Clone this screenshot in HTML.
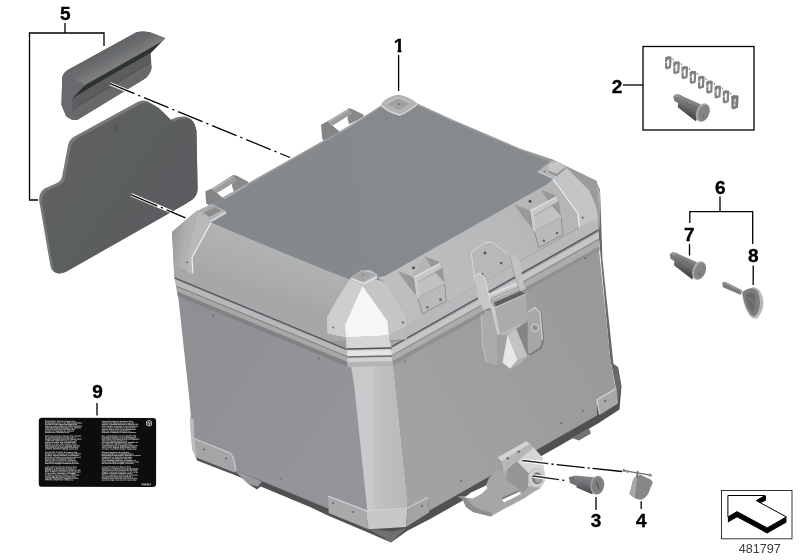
<!DOCTYPE html>
<html lang="en">
<head>
<meta charset="utf-8">
<title>Top case parts diagram 481797</title>
<style>
html,body{margin:0;padding:0;background:#fff;}
body{width:800px;height:560px;overflow:hidden;position:relative;font-family:"Liberation Sans",sans-serif;}
svg{position:absolute;left:0;top:0;display:block;}
.lbl{font-family:"Liberation Sans",sans-serif;font-weight:bold;font-size:19px;fill:#000;stroke:#000;stroke-width:0.35px;text-anchor:middle;}
.num{font-family:"Liberation Sans",sans-serif;font-size:12.6px;fill:#3a3a3a;text-anchor:middle;}
.ln{stroke:#000;stroke-width:1.3;fill:none;}
.tiny{font-family:"Liberation Sans",sans-serif;font-size:1.75px;font-weight:bold;fill:#f4f4f4;}
</style>
</head>
<body>
<svg width="800" height="560" viewBox="0 0 800 560">
<defs>
<filter id="soft" x="-5%" y="-5%" width="110%" height="110%"><feGaussianBlur stdDeviation="0.45"/></filter>
<filter id="soft2" x="-5%" y="-5%" width="110%" height="110%"><feGaussianBlur stdDeviation="0.3"/></filter>
</defs>
<rect width="800" height="560" fill="#fff"/>

<!-- ===== ILLUSTRATION ===== -->
<g id="art" filter="url(#soft)">
<!-- underside -->
<path d="M193 449L197 460.500L236 475.500L262 487L310 507L329 516L368 532.500L391 542.500L407 531L431 518.500L560 445.500L598 423.500L619.500 409.500L621.500 386L618 367L613 364L616 388L560 424L430 500L366 512L232 458Z" fill="#4f5153"/>
<path d="M369 529L391 542L406 528.500L392 531.500Z" fill="#6e7072"/>
<path d="M233 469L262 481.500L258 486.500L247 483Z" fill="#98999b"/>
<path d="M247 483L258 486.500L262 481.500L262 485.500L257 489.500Z" fill="#505254"/>
<path d="M572 438L589 428.500L591 433.500L579 440.500Z" fill="#707274"/>

<!-- ================= MAIN CASE ================= -->
<defs>
<linearGradient id="gTop" x1="213" y1="210" x2="548" y2="175" gradientUnits="userSpaceOnUse"><stop offset="0" stop-color="#85888a"/><stop offset="1" stop-color="#888b8d"/></linearGradient>
<linearGradient id="gFL" x1="175" y1="300" x2="360" y2="420" gradientUnits="userSpaceOnUse"><stop offset="0" stop-color="#8d8f92"/><stop offset="1" stop-color="#939598"/></linearGradient>
<linearGradient id="gFR" x1="400" y1="420" x2="610" y2="300" gradientUnits="userSpaceOnUse"><stop offset="0" stop-color="#a0a2a4"/><stop offset="1" stop-color="#97999b"/></linearGradient>
<linearGradient id="gPost" x1="350" y1="0" x2="402" y2="0" gradientUnits="userSpaceOnUse"><stop offset="0" stop-color="#c6c8ca"/><stop offset="0.4" stop-color="#c9cbcd"/><stop offset="0.52" stop-color="#bfc1c3"/><stop offset="1" stop-color="#b8babc"/></linearGradient>
<linearGradient id="gBandL" x1="270" y1="240" x2="252" y2="295" gradientUnits="userSpaceOnUse"><stop offset="0" stop-color="#b1b3b5"/><stop offset="0.7" stop-color="#a9abad"/><stop offset="1" stop-color="#a3a5a7"/></linearGradient><linearGradient id="gSideL" x1="172" y1="240" x2="198" y2="245" gradientUnits="userSpaceOnUse"><stop offset="0" stop-color="#999b9d"/><stop offset="0.5" stop-color="#aeb0b2"/><stop offset="1" stop-color="#b6b8ba"/></linearGradient>
<linearGradient id="gBandR" x1="400" y1="290" x2="570" y2="200" gradientUnits="userSpaceOnUse"><stop offset="0" stop-color="#bcbec0"/><stop offset="1" stop-color="#b3b5b7"/></linearGradient>
</defs>

<!-- right dark sliver (back-right face) -->
<path d="M596 181L600 190L602.500 260L613.500 364L618 367.500L621 386L618 404L616 388L610 358L598 228Z" fill="#66686a"/>
<!-- back-right chamfer -->
<linearGradient id="gBR" x1="572" y1="168" x2="600" y2="215" gradientUnits="userSpaceOnUse"><stop offset="0" stop-color="#d2d4d6"/><stop offset="0.5" stop-color="#b4b6b8"/><stop offset="1" stop-color="#9c9ea0"/></linearGradient>
<path d="M566 166L596 181L600 192L600 230L597 214L589 190Z" fill="url(#gBR)"/>

<!-- body: front-left face -->
<path d="M178 295L351.500 366L355 384L364 470L368.500 511L328 508.500L236 470.500L196 457L192.500 449L191 418L189.500 400Z" fill="url(#gFL)"/>
<!-- body: front-right face -->
<path d="M392.500 364L599 249.500L610.500 360L615.500 388L597 400L597 415.500L429.400 510.600L427.800 497.600L407.500 508Z" fill="url(#gFR)"/>
<!-- corner post -->
<path d="M347.500 364L392.500 362L407.800 508.500L367.500 511.500L363 470L354 384L351 366Z" fill="url(#gPost)"/>

<!-- rim zone filler -->
<path d="M174.500 275L346 337L407.500 339L598.500 231L599.500 250.500L393 365.500L347.800 367L177 292.500Z" fill="#a8aaac"/>
<!-- FL rim (below seam) -->
<path d="M174.500 276L346.500 348L348 367L178 296.500Z" fill="#a5a7a9"/>
<path d="M175 279.500L346.500 350.500L347 356L176 285.500Z" fill="#b6b8ba"/>
<path d="M176 286L347 356.500" stroke="#7e8082" stroke-width="1" fill="none"/>
<path d="M177 291.500L347.500 362L348 367L178 296.500Z" fill="#808284"/>
<!-- FR rim (below seam) -->
<path d="M391.500 346L598.500 231L599.500 250L393 365Z" fill="#aaacae"/>
<path d="M391.500 348.300L598.500 231.300L599 238L392 355Z" fill="#c4c6c8"/>
<path d="M392 355.500L599 239.500" stroke="#858789" stroke-width="1" fill="none"/>
<path d="M392.500 361L599.200 246.500L599.500 250.500L393 365.500Z" fill="#8e9092"/>

<!-- lid back silhouette strip -->
<path d="M172 232L193 214L212 203.500L280 165L350 125.500L381 105.500L398.500 94.500L417.500 103.500L450 118.500L520 148.500L553 159.500L566 166L597 181L599 232L407 340L346.500 348.500L174.500 276.500Z" fill="#999b9d"/>
<!-- top face -->
<path d="M213 205.500L280.500 166.800L350.500 127.300L381.500 107.300L398.500 96.500L416.500 105L450 120.300L520 150.300L548.500 161L556 170L553 179.400L546 185L385 276L372 284L350 279.500L330 272L250 239.300L211 222.500L205 211Z" fill="url(#gTop)"/>

<!-- left side chamfer -->
<path d="M197.400 210L193 214L172 231.700L173.700 265.500L187.500 272L188 252.700Z" fill="url(#gSideL)"/>
<!-- FL lid vertical side -->
<path d="M173.500 265L193 273.700L327.200 317.500L327.700 341.500L174.500 278Z" fill="#a5a7a9"/>
<!-- FL chamfer band -->
<path d="M211 222.500L250 239.300L330 272L350 279.500L337.500 298.700L327.200 317.500L193 273.700L192 257.500Z" fill="url(#gBandL)"/>
<!-- FL seam -->
<path d="M174.500 277.800L346.500 349.300" stroke="#55575a" stroke-width="1.400" fill="none"/>

<!-- FR lid vertical side -->
<path d="M407.500 325L598 217.500L598.500 230L407 339.500Z" fill="#b7b9bb"/>
<!-- FR chamfer band -->
<path d="M385 276L546 185L553 179.400L578 213.700L579.400 227L407.500 325L406 316L386 282.500L377.500 277.500Z" fill="url(#gBandR)"/>
<!-- FR seam -->
<path d="M391.500 346.800L598.500 229.800" stroke="#55575a" stroke-width="1.400" fill="none"/>

<!-- left corner strap -->
<path d="M197.400 212L211 222.500L192 257.500L193 273.800L187.300 272L188 252.700Z" fill="#b7b9bb"/>
<path d="M211 222.500L192 257.500L193 273.500" stroke="#f4f4f4" stroke-width="1.100" fill="none"/>
<!-- right corner strap -->
<path d="M553 179.400L566 167.500L589 190L596 206L598.300 218L579.400 227.500L578 213.700L561 190Z" fill="#c3c5c7"/>
<path d="M553 179.400L561 190L578 213.700L579.400 227.500" stroke="#f0f0f0" stroke-width="1.200" fill="none"/>

<!-- front corner strap -->
<path d="M350 279L376 279.500L386 282.500L406 316L407.500 326L388.700 335.500L346 337.500L327.500 333.700L327 317.500L337.500 298.700Z" fill="#c3c5c7"/>
<path d="M350 279L362.500 286L345 325L346 337.500L327.500 333.700L327 317.500L337.500 298.700Z" fill="#cccecf"/>
<path d="M362.500 286L387.500 321L388.700 335.500L346 337.500L345 325Z" fill="#f6f6f6"/>
<path d="M327.500 333.700L346 337.500L346.500 340.500L327.700 340.700Z" fill="#a5a7a9"/>
<path d="M388.700 335.500L407.500 326L407 339.500L390.500 340Z" fill="#b7b9bb"/>
<!-- front corner stripes under strap -->
<path d="M346 337.500L388.700 335.500L392.500 364.500L347.800 366.500Z" fill="#c9cbcd"/>
<path d="M346 337.500L388.700 335.500L391.200 347.500L347 348.500Z" fill="#d3d5d7"/>
<path d="M347 349L391.300 348" stroke="#4f5153" stroke-width="1.600" fill="none"/>
<path d="M347.200 351L391.500 350L391.800 355L347.500 356Z" fill="#e4e5e6"/>
<path d="M347.500 357L391.900 356" stroke="#6e7072" stroke-width="1.300" fill="none"/>
<path d="M347.600 358.500L392 357.500L392.200 361L347.700 362Z" fill="#cfd1d3"/>
<path d="M347.700 362L392.200 361L392.500 365L347.800 366.500Z" fill="#b3b5b7"/>

<!-- bottom corner guards -->
<!-- left guard -->
<path d="M191 418L193 438L230 453L233.500 457.500L236 471L234.500 472.500L196 457.500L192.500 449.500Z" fill="#a3a5a7"/>
<path d="M189.800 416.500L193.600 419.500L194.300 438.300L196.600 457.700L192.200 449.800L190.300 430Z" fill="#b9bbbd"/>
<path d="M193 438L230 453L233.500 457.500L236 471" stroke="#c8cacc" stroke-width="1.200" fill="none"/>
<!-- front corner guard -->
<path d="M328 496L366 510.600L368.500 529.300L328.700 513Z" fill="#a7a9ab"/>
<path d="M366 510.600L407.500 508L406 527L368.500 529.300Z" fill="#c6c8ca"/>
<path d="M407.500 508L427.800 497.600L429.400 512.300L406 527Z" fill="#a2a4a6"/>
<path d="M328 496L366 510.600L407.500 508L427.800 497.600" stroke="#cfd1d3" stroke-width="1.100" fill="none"/>
<!-- right guard -->
<path d="M597 399.700L616.500 388.500L618 403.500L600 414.700Z" fill="#a7a9ab"/>
<path d="M599.500 414.500L597 399.700L616.500 388.500" stroke="#d0d2d4" stroke-width="1.300" fill="none"/>
<!-- screws -->
<g fill="#6c6e70">
<circle cx="204" cy="449.500" r="1.100"/><circle cx="226" cy="458.500" r="1.100"/>
<circle cx="333" cy="503" r="1.100"/><circle cx="353" cy="512" r="1.100"/><circle cx="422" cy="506" r="1.200"/>
<circle cx="605" cy="401" r="1.200"/>
<circle cx="281" cy="478.500" r="1"/><circle cx="461" cy="481" r="1"/><circle cx="561" cy="423" r="1.100"/><circle cx="583" cy="411" r="1"/>
<circle cx="213.300" cy="315.500" r="1.100"/><circle cx="319" cy="358.500" r="1"/><circle cx="405" cy="361.500" r="1.100"/><circle cx="585" cy="258" r="1.100"/>
</g>

<!-- mounting bracket / lock housing -->
<g>
<!-- lower arm -->
<path d="M458 496L463 500L466 507L473 512L491 516.500L503 509.500L524 498.500L538 489L545 480L520 470L497 470L489 478L486 485L480 491L470 496Z" fill="#a4a6a8"/>
<path d="M458 496L463 500L466 507L473 512L491 516.500L492 513L476 508L469 502L466 496Z" fill="#8c8e90"/>
<path d="M464.500 497.500L471 492.500L486 485.500L487.500 488L482 493.500L473 498.500Z" fill="#fff"/>
<path d="M502 499.500L519.500 491.500L521 494L504 502.500Z" fill="#fff"/>
<path d="M502 499.500L519.500 491.500L519.500 490L502.500 497.500Z" fill="#77797b"/>
<!-- wall plate -->
<path d="M501.200 461.200L530 443.700L534 448L517.500 461.200L507.500 470L503.700 473.700Z" fill="#b4b6b8"/>
<path d="M497.500 457.500L526.200 441.200L530 443.700L501.200 461.200Z" fill="#d2d4d6"/>
<path d="M497.500 457.500L501.200 461.200L503.700 473.700L498.700 470Z" fill="#9c9ea0"/>
<circle cx="507.700" cy="458.200" r="1.300" fill="#6a6c6e"/><circle cx="518.700" cy="451.800" r="1.300" fill="#6a6c6e"/>
<!-- housing block -->
<path d="M517.500 461.200L533.700 447.500L542.500 457.500L545.500 478L541 488L528.700 486.200Z" fill="#d4d6d8"/>
<path d="M507.500 470L517.500 461.200L530 473.700L528.700 486.200L523.700 492.500L506.200 480Z" fill="#949698"/>
<path d="M517.500 461.200L530 473.700L528.700 486.200" stroke="#dcdee0" stroke-width="1" fill="none"/>
<path d="M523.700 492.500L528.700 486.200L541 488L538 489.500L526 496Z" fill="#a6a8aa"/>
<!-- cylinder bore -->
<ellipse cx="536.300" cy="478.200" rx="8.200" ry="9.400" fill="#cfd1d3"/>
<ellipse cx="536.300" cy="478.200" rx="8.200" ry="9.400" fill="none" stroke="#aeb0b2" stroke-width="0.700"/>
<ellipse cx="537.200" cy="478.200" rx="5.200" ry="6" fill="#7c7e80"/>
<ellipse cx="538" cy="478.600" rx="3.200" ry="3.900" fill="#a5a7a9"/>
</g>

<!-- ===== back-left handles ===== -->
<g id="handle2">
<path d="M321 124.700L327.500 121.200L339.700 131.700L324 140.500L322.200 138.700Z" fill="#838587"/>
<path d="M348.500 108L352 109L364.200 115L362.500 117.700L349 124.300L347.600 118.600Z" fill="#87898b"/>
<path d="M327.500 121.200L348.500 108.500L352.300 113.600L332.700 125.600Z" fill="#9a9c9e"/>
<path d="M328.500 122L349 109.700" stroke="#b4b6b8" stroke-width="1.400" fill="none"/>
<path d="M339.700 131.700L362.500 117.700" stroke="#b3b5b7" stroke-width="1.200" fill="none"/>
</g>
<g id="handle1">
<path d="M205.300 191.200L211.900 188.600L224.100 199.100L210.100 206.100L206.200 203.500Z" fill="#838587"/>
<path d="M232.900 175L236.400 175.500L248.600 182L246.900 184.700L233.700 191.200L232 186Z" fill="#87898b"/>
<path d="M211.900 188.600L232.900 175L236.700 181L217.100 193Z" fill="#9a9c9e"/>
<path d="M213 189.300L233.300 176.500" stroke="#b4b6b8" stroke-width="1.400" fill="none"/>
<path d="M224.100 199.100L246.900 184.700" stroke="#b3b5b7" stroke-width="1.200" fill="none"/>
</g>

<!-- ===== corner clips ===== -->
<!-- back -->
<path d="M381 105Q383 100.500 388 98Q393 95.200 398.500 94.700Q404 95.500 409 98Q414.500 100.500 417.300 104Q413 108 408 111Q403.500 114 399.500 115Q394 113.500 389 111Q384 108.500 381 105Z" fill="#b1b3b5"/>
<path d="M386 104L398 97.700L410.500 103L399 110.200Z" fill="#9fa1a3"/>
<path d="M381 105Q384 108.500 389 111Q394 113.500 399.500 115Q403.500 114 408 111Q413 108 417.300 104" stroke="#d4d6d8" stroke-width="1.400" fill="none"/>
<path d="M386 104L398 97.700L410.500 103" stroke="#cfd1d3" stroke-width="0.900" fill="none"/>
<circle cx="398.800" cy="104.200" r="0.900" fill="#6e7072"/>
<!-- left -->
<path d="M194.800 212L211.500 203.800L226 211L226.200 213.400L211 222.300Z" fill="#aeb0b2"/>
<path d="M211 222.300L226.200 213.400L226 211L211 220Z" fill="#cfd1d3"/>
<path d="M194.800 212L211 220L211 222.300Z" fill="#bfc1c3"/>
<path d="M199.700 211.200L212.900 205.700L222.500 211L209.400 217.500Z" fill="#8b8d8f"/>
<path d="M199.700 211.200L212.900 205.700L215.500 207.200L203 213Z" fill="#a6a8aa"/>
<path d="M199.700 211.200L209.400 217.500L222.500 211" stroke="#c2c4c6" stroke-width="0.900" fill="none"/>
<!-- right -->
<path d="M537.600 171.600L552.200 160.200L565.700 167L553.400 178.600Z" fill="#b3b5b7"/>
<path d="M537.600 171.600L553.400 178.600L565.700 167" stroke="#d0d2d4" stroke-width="1" fill="none"/>
<path d="M549 163.700L556.500 161.400L565.700 167L556.700 174L548.500 170.500Z" fill="#c3c5c7"/>
<path d="M548.500 170.500L556.700 174L565.700 167L565.700 168.800L556.700 176.200L548.500 172.300Z" fill="#8e9092"/>
<circle cx="544.500" cy="171.300" r="0.900" fill="#77797b"/>
<!-- front -->
<path d="M350 278L361 270.600L370 270L377.500 274.400L377 278L363.700 285.200Z" fill="#bfc1c3"/>
<path d="M351.500 277.400L362.500 270.800L376 274.400L363.700 282Z" fill="#a3a5a7"/>
<path d="M351 278.400L363.700 283.600L377 277.500" stroke="#dfe0e1" stroke-width="1.500" fill="none"/>
<circle cx="363.200" cy="274.600" r="0.900" fill="#7d7f81"/>

<!-- ===== tie-down loops on FR band ===== -->
<g id="loop1">
<path d="M412.200 276.500L424.700 256.500L438.500 261.500L413.500 276Z" fill="#b3b5b7"/>
<path d="M417.900 282.500L442.200 268L444.700 284L417.900 297.700Z" fill="#bfc1c3"/>
<path d="M417.900 297.700L444.700 284L446.300 301L422.300 314Z" fill="#b8babc"/>
<path d="M417.900 297.700L422.300 314L446.300 301L444.700 284" stroke="#8a8c8e" stroke-width="0.900" fill="none"/>
<path d="M417.900 297.700L444.700 284" stroke="#9c9ea0" stroke-width="0.700" fill="none"/>
<path d="M397.900 270.900L412.200 276.500L416 284L417.900 297.700L406 282.700Z" fill="#989a9c"/>
<path d="M412.200 276.500L416 284L417.900 297.700L414.500 290Z" fill="#8c8e90"/>
<path d="M424.700 256.500L438.500 261.500L442.200 266.500L444.700 282.700L433.500 270.200Z" fill="#96989a"/>
<path d="M413.500 276.500L439.700 262.700L442.200 267.700L417.200 282.100Z" fill="#c5c7c9"/>
<path d="M413.500 276.500L417.900 282.100L419.700 299L416.500 296.500Z" fill="#cacccd"/>
<path d="M414.300 277.300L439.900 263.800" stroke="#e0e1e2" stroke-width="1.300" fill="none"/>
<path d="M417.500 282.300L442.200 268.200" stroke="#9d9fa1" stroke-width="0.800" fill="none"/>
<circle cx="413.500" cy="267.700" r="1.500" fill="#4e5052"/>
<circle cx="427.300" cy="307.200" r="1.300" fill="#66686a"/><circle cx="440.500" cy="299.600" r="1.300" fill="#66686a"/>
</g>
<g id="loop2" transform="translate(116.500,-66.500)">
<path d="M412.200 276.500L424.700 256.500L438.500 261.500L413.500 276Z" fill="#b3b5b7"/>
<path d="M417.900 282.500L442.200 268L444.700 284L417.900 297.700Z" fill="#bfc1c3"/>
<path d="M417.900 297.700L444.700 284L446.300 301L422.300 314Z" fill="#b8babc"/>
<path d="M417.900 297.700L422.300 314L446.300 301L444.700 284" stroke="#8a8c8e" stroke-width="0.900" fill="none"/>
<path d="M417.900 297.700L444.700 284" stroke="#9c9ea0" stroke-width="0.700" fill="none"/>
<path d="M397.900 270.900L412.200 276.500L416 284L417.900 297.700L406 282.700Z" fill="#989a9c"/>
<path d="M412.200 276.500L416 284L417.900 297.700L414.500 290Z" fill="#8c8e90"/>
<path d="M424.700 256.500L438.500 261.500L442.200 266.500L444.700 282.700L433.500 270.200Z" fill="#96989a"/>
<path d="M413.500 276.500L439.700 262.700L442.200 267.700L417.200 282.100Z" fill="#c5c7c9"/>
<path d="M413.500 276.500L417.900 282.100L419.700 299L416.500 296.500Z" fill="#cacccd"/>
<path d="M414.300 277.300L439.900 263.800" stroke="#e0e1e2" stroke-width="1.300" fill="none"/>
<path d="M417.500 282.300L442.200 268.200" stroke="#9d9fa1" stroke-width="0.800" fill="none"/>
<circle cx="413.500" cy="267.700" r="1.500" fill="#4e5052"/>
<circle cx="427.300" cy="307.200" r="1.300" fill="#66686a"/><circle cx="440.500" cy="299.600" r="1.300" fill="#66686a"/>
</g>

<!-- ===== latch ===== -->
<g id="latch">
<!-- base plate on body -->
<path d="M481.200 315L484.500 314.200L485 311L491.200 311.500L497.500 335L497.500 365.500L486.200 362.500L482.500 345Z" fill="#a9abad"/>
<path d="M481.200 315L482.500 345L486.200 362.500" stroke="#c3c5c7" stroke-width="0.900" fill="none"/>
<!-- lock plate shadow + plate -->
<path d="M536 307.800L541.500 312.500L544.300 340L541.500 348.500L531 355.200L527.500 353.500Z" fill="#77797b"/>
<path d="M527.500 312.500L535 307.500L540 312.500L542.500 340L540 347.500L530 353.700L527.500 352.500Z" fill="#a5a7a9"/>
<path d="M527.500 312.500L535 307.500L540 312.500L542.500 340" stroke="#cfd1d3" stroke-width="1.200" fill="none"/>
<circle cx="535" cy="327.700" r="4.300" fill="#c6c8ca"/><circle cx="535" cy="327.700" r="2.900" fill="#96989a"/>
<path d="M533.500 326.500L536.500 329" stroke="#6e7072" stroke-width="0.800" fill="none"/>
<!-- shadow between wedge and lock plate -->
<path d="M516.200 328.700L527.500 322L527.800 356.200Z" fill="#828486"/>
<!-- top plate on lid -->
<path d="M471.200 252.500L485 242.500L492.500 242.500L507.500 253.700L508.700 267.500L475 281.200L472.500 262.500Z" fill="#b6b8ba"/>
<path d="M475 281.200L472.500 262.500L471.200 252.500L485 242.500L492.500 242.500L507.500 253.700" stroke="#d6d8da" stroke-width="1" fill="none"/>
<circle cx="485" cy="253" r="1.400" fill="#525456"/><circle cx="501.200" cy="263" r="1.300" fill="#5c5e60"/><circle cx="482" cy="274.400" r="1.300" fill="#5c5e60"/>
<!-- cross bar -->
<path d="M489 293.500L520.500 281L522.500 287L491.500 300Z" fill="#c5c7c9"/>
<path d="M489.500 294.800L520.800 282.300" stroke="#e4e5e6" stroke-width="1.400" fill="none"/>
<path d="M491 298.500L522 285.800" stroke="#9a9c9e" stroke-width="1" fill="none"/>
<!-- cavity -->
<path d="M493.700 302.500L520 291.200L526.200 293.700L497 308Z" fill="#5e6062"/>
<!-- arms -->
<path d="M475 276.200Q477.500 272.500 481.200 273.700L486.200 282.500L491.200 307.500L483.700 310L477.500 297.500Z" fill="#c4c6c8"/>
<path d="M510 256.200Q513 253.500 516.200 255L520 262.500L523.700 285L526.200 288.700L520 291.200L513.700 272.500Z" fill="#c0c2c4"/>
<path d="M475 276.200Q477.500 272.500 481.200 273.700L486.200 282.500L491.200 307.500" stroke="#e2e3e4" stroke-width="0.900" fill="none"/>
<path d="M510 256.200L513.700 272.500L520 291.200" stroke="#9c9ea0" stroke-width="0.800" fill="none"/>
<!-- lever -->
<path d="M490 302.500L495 307.500L500 333.700L497.500 335L491.200 310Z" fill="#c8cacc"/>
<path d="M495 307.500L526.200 293.700L527.500 320L500 333.700Z" fill="#a9abad"/>
<path d="M495 307.500L526.200 293.700" stroke="#cdcfd1" stroke-width="1" fill="none"/>
<!-- wedge -->
<path d="M497.500 335L507.500 335L502.500 362.500L497.500 365.500Z" fill="#9ea0a2"/>
<path d="M500 333.700L527.500 320L516.200 328.700L507.500 335L497.500 335Z" fill="#b6b8ba"/>
<path d="M507.500 335L516.200 328.700L527.500 356.200L517.500 360Z" fill="#c1c3c5"/>
<path d="M507.500 335L517.500 360L510 368.700L502.500 362.500Z" fill="#e6e7e8"/>
<path d="M510 368.700L517.500 360L527.500 356.200L520 364Z" fill="#aeb0b2"/>
</g>
<g fill="#77797b"><circle cx="582.700" cy="217.700" r="1.200"/><circle cx="187.200" cy="262.300" r="1.100"/><circle cx="333.300" cy="327.500" r="1.100"/><circle cx="403" cy="322.500" r="1.200"/></g>

<!-- ===== backrest cushion (5) ===== -->
<defs>
<linearGradient id="gCushTop" x1="100" y1="45" x2="112" y2="68" gradientUnits="userSpaceOnUse"><stop offset="0" stop-color="#5c5e60"/><stop offset="0.55" stop-color="#696b6d"/><stop offset="1" stop-color="#7c7e80"/></linearGradient>
<linearGradient id="gPlate" x1="60" y1="140" x2="190" y2="230" gradientUnits="userSpaceOnUse"><stop offset="0" stop-color="#5e6062"/><stop offset="1" stop-color="#595b5d"/></linearGradient>
</defs>
<g id="cushion">
<path d="M62.200 78C62.500 74 66 71 71 68.300L136 32.500Q142 30.500 150.700 32.500L165.400 38.200L162 41.500L150.700 52.900L151.500 67.500Q151.500 72 146 78L78 119.500Q72 121.500 66 116L61.500 105Z" fill="#5b5d5f"/>
<!-- left rounded end -->
<path d="M62.200 78C62.500 74 66 71 71 68.300L85 85L72 98.500L73 118.500Q68 118.500 66 116L61.500 105Z" fill="#696b6d"/>
<!-- top surface -->
<path d="M64.600 73.200Q66 70.500 71 68.300L136 32.500Q142 30.500 150.700 32.500L165.400 38.200L162 41.500L85 85Z" fill="url(#gCushTop)"/>
<!-- groove -->
<path d="M72 98.500L85 85.200L162 41.500L150.700 53L107 77.500Z" fill="#2f3133"/>
<!-- lower lip -->
<path d="M75 108L150.800 62.500L151.500 67.500Q151.500 72 146 78L78 119.500Q74 120.500 70.500 119Z" fill="#66686a"/>
<path d="M74 108.500L150.800 62.500" stroke="#4a4c4e" stroke-width="0.800" fill="none"/>
</g>
<!-- ===== back plate (5) ===== -->
<g id="plate">
<clipPath id="cpPlate"><path d="M39 199.700L40 194Q41.500 190.500 44.600 188.500L57 183Q60.500 181.500 62 177L68.200 144.500Q69.500 139.500 73.500 137L138 101.700Q144 99.500 148 101.500L158.200 107.400L165 114L170.600 119.700L176.200 117.500Q185 115.500 189 118Q194.500 120.500 196.500 131L197.600 189Q197.300 195.500 192.500 199.500L185 204.300L66 271.700Q59 275 54 272Q51 270 50.200 265Z"/></clipPath>
<path d="M39 199.700L40 194Q41.500 190.500 44.600 188.500L57 183Q60.500 181.500 62 177L68.200 144.500Q69.500 139.500 73.500 137L138 101.700Q144 99.500 148 101.500L158.200 107.400L165 114L170.600 119.700L176.200 117.500Q185 115.500 189 118Q194.500 120.500 196.500 131L197.600 189Q197.300 195.500 192.500 199.500L185 204.300L66 271.700Q59 275 54 272Q51 270 50.200 265Z" fill="#77797b"/>
<g clip-path="url(#cpPlate)"><path d="M39 199.700L40 194Q41.500 190.500 44.600 188.500L57 183Q60.500 181.500 62 177L68.200 144.500Q69.500 139.500 73.500 137L138 101.700Q144 99.500 148 101.500L158.200 107.400L165 114L170.600 119.700L176.200 117.500Q185 115.500 189 118Q194.500 120.500 196.500 131L197.600 189Q197.300 195.500 192.500 199.500L185 204.300L66 271.700Q59 275 54 272Q51 270 50.200 265Z" fill="url(#gPlate)" transform="translate(2.800,2)"/></g>
<path d="M112.500 124L114 123.500L115 129L117.300 122.500L118.500 122.500L116.800 130.500L114.800 131.500Z" fill="#505254"/>
</g>

<!-- ===== lock cylinders (7, 2) ===== -->
<defs>
<linearGradient id="gCyl" x1="688" y1="257" x2="682" y2="272" gradientUnits="userSpaceOnUse"><stop offset="0" stop-color="#8c8e90"/><stop offset="0.45" stop-color="#707274"/><stop offset="1" stop-color="#48494b"/></linearGradient>
<linearGradient id="gCyl3" x1="585" y1="475" x2="583" y2="491" gradientUnits="userSpaceOnUse"><stop offset="0" stop-color="#8a8c8e"/><stop offset="0.5" stop-color="#707274"/><stop offset="1" stop-color="#4e5052"/></linearGradient>
<g id="cyl">
<path d="M669.700 254.200L672.700 252L677.500 253.400L676.500 262.500L670.500 258.700Z" fill="#77797b"/>
<path d="M669.700 254.200L672.700 252L677.500 253.400L675 255.500Z" fill="#999b9d"/>
<path d="M675.300 252.600L697 262.300L692.300 279.400L674 265.200Z" fill="url(#gCyl)"/>
<g fill="#4c4e50"><circle cx="680.300" cy="259" r="0.600"/><circle cx="683.300" cy="260.700" r="0.600"/><circle cx="686.300" cy="262.400" r="0.600"/><circle cx="689.300" cy="264.100" r="0.600"/><circle cx="692.300" cy="265.800" r="0.600"/></g>
<ellipse cx="699.100" cy="270.600" rx="6.500" ry="9.600" transform="rotate(22 699.100 270.600)" fill="#a7a9ab"/>
<ellipse cx="700" cy="271" rx="5.400" ry="8.500" transform="rotate(22 700 271)" fill="#828486"/>
<path d="M699 272.500L700.500 276" stroke="#5c5e60" stroke-width="0.900" fill="none"/>
</g>
</defs>
<use href="#cyl"/>
<use href="#cyl" transform="translate(3.700,-158)"/>

<!-- ===== lock cylinder (3) ===== -->
<g id="cyl3">
<path d="M568.700 477.200L575.600 475.600L576.700 486L570 483Z" fill="#707274"/>
<path d="M575.600 475.600L594 477.200L592.500 494.500L576.500 487.500Z" fill="url(#gCyl3)"/>
<ellipse cx="597.300" cy="485.200" rx="6.900" ry="9.600" transform="rotate(8 597.300 485.200)" fill="#9c9ea0"/>
<ellipse cx="597.900" cy="485.400" rx="5.900" ry="8.600" transform="rotate(8 597.900 485.400)" fill="#7d7f81"/>
<path d="M596.500 481.500L599 489" stroke="#4c4e50" stroke-width="1" fill="none"/>
</g>

<!-- ===== cover (4) ===== -->
<g id="cover4">
<path d="M631.200 487.500L633 480Q634.500 476.500 637.500 475.800L640 474.500L650 479.200Q653.300 481 652.500 483.400L650.500 487.500Q649.500 492.500 647 495.500Q644 499.500 640 499.800Q636 499.500 632.500 496.500L629.500 493.700Z" fill="#858789"/>
<path d="M631.200 487.500L633 480Q634.500 476.500 637.500 475.800L636 487L635 497.500L632.500 496.500L629.500 493.700Z" fill="#a6a8aa"/>
<path d="M622.400 470.300L650.500 475.200" stroke="#6a6c6e" stroke-width="1.200" fill="none"/>
<path d="M637.800 471L636.800 478" stroke="#77797b" stroke-width="1.800" fill="none"/>
<circle cx="624" cy="470.600" r="1.500" fill="#808284"/><circle cx="627.500" cy="471.600" r="1.400" fill="#909294"/><path d="M649 473L652.500 475.500L649.500 477Z" fill="#808284"/>
</g>

<!-- ===== key (8) ===== -->
<g id="key8">
<path d="M722.200 282.700L725.300 282L741.800 290.200L741 295L723 287.300Z" fill="#77797b"/>
<path d="M722.200 282.700L725.300 282L741.800 290.200L741.300 292Z" fill="#929496"/>
<path d="M742.200 292Q746.500 288.300 753 287.200Q757.500 287.500 760 291Q763 296 763.500 303Q763 311 759 316Q757 318.600 755.500 318.800Q752.500 318.500 750 316Q746 311 744 303.500Q742.500 297.500 742.200 292Z" fill="#b4b6b8"/>
<path d="M742.200 292Q746.500 288.800 752 288.300Q756 288.800 758 292Q760 297 760 303Q759.500 310 756.500 314.500Q755 316.300 753.500 316.300Q751 315.500 749.500 313Q746 308 744.300 302Q742.700 297 742.200 292Z" fill="#7b7d7f"/>
<path d="M746 294.500Q750 291.500 753.500 293Q756 296.500 755.500 302.500Q754.500 309 752.500 312Q748.500 307 746.800 300.500Z" fill="#696b6d"/>
<path d="M747 297L755 303.500" stroke="#8c8e90" stroke-width="0.800" fill="none"/>
</g>

<!-- ===== tumblers (2) ===== -->
<defs>
<g id="tmb">
<path d="M665 57.800L667.200 56.300L671.200 56.600L671.600 58.500L671 68L666.800 69.500L665 68.300Z" fill="#7f8183"/>
<path d="M667.300 59.800L669.200 59.400L669 66.200L667.200 66.800Z" fill="#fff"/>
<path d="M665 62.500L667.300 62.200" stroke="#fff" stroke-width="0.700" fill="none"/>
<path d="M672.800 58.200L673.400 60.800M673.700 62.300L674.200 64.300" stroke="#8e9092" stroke-width="1" fill="none"/>
</g>
</defs>
<use href="#tmb"/>
<use href="#tmb" transform="translate(8.250,4.850)"/>
<use href="#tmb" transform="translate(16.500,9.700)"/>
<use href="#tmb" transform="translate(24.750,14.550)"/>
<use href="#tmb" transform="translate(33,19.400)"/>
<use href="#tmb" transform="translate(41.250,24.250)"/>
<use href="#tmb" transform="translate(49.500,29.100)"/>
<use href="#tmb" transform="translate(57.750,33.950)"/>
<path d="M731.400 96.600L733.500 95L738 95.400L738.600 97.500L738 107.500L733.500 109.400L731.400 108Z" fill="#77797b"/><path d="M733.800 99L736 98.600L735.800 102L733.700 102.400ZM733.600 103.600L735.700 103.200L735.500 106L733.500 106.500Z" fill="#c8cacc"/>

<!-- ===== sticker (9) ===== -->
<g id="sticker" transform="rotate(0.03 97 452)">
<rect x="38.800" y="417.900" width="117.300" height="69" rx="3.200" fill="#0a0a0a"/>
<text class="tiny" x="44.9" y="421.90">Zuladung des Topcase maximal 5 kg.</text>
<text class="tiny" x="44.9" y="423.50">Beladungshinweise in der Betriebsanleitung</text>
<text class="tiny" x="44.9" y="425.10">beachten. Hoechstgeschwindigkeit mit</text>
<text class="tiny" x="44.9" y="426.70">Topcase maximal 180 km/h. Reifenfuelldruck</text>
<text class="tiny" x="44.9" y="428.30">und Federvorspannung anpassen. Topcase</text>
<text class="tiny" x="44.9" y="429.90">nach dem Schliessen auf festen Sitz</text>
<text class="tiny" x="44.9" y="431.50">pruefen. Verriegelung des Topcase</text>
<text class="tiny" x="44.9" y="433.10">kontrollieren. Hinweise in der</text>
<text class="tiny" x="44.9" y="436.60">Maximum payload of topcase 5 kg. Observe</text>
<text class="tiny" x="44.9" y="438.20">the loading instructions in the rider's</text>
<text class="tiny" x="44.9" y="439.80">manual. Maximum speed with topcase fitted</text>
<text class="tiny" x="44.9" y="441.40">is 180 km/h. Adjust tyre pressures and</text>
<text class="tiny" x="44.9" y="443.00">spring preload to suit. Check that the</text>
<text class="tiny" x="44.9" y="444.60">topcase is secure after closing. Check</text>
<text class="tiny" x="44.9" y="446.20">that the topcase lock is engaged. Note the</text>
<text class="tiny" x="44.9" y="447.80">information in the operating instructions</text>
<text class="tiny" x="44.9" y="449.40">supplied. Distribute luggage evenly and</text>
<text class="tiny" x="44.9" y="452.90">Charge utile maximale du topcase 5 kg.</text>
<text class="tiny" x="44.9" y="454.50">Respecter les consignes de chargement de</text>
<text class="tiny" x="44.9" y="456.10">la notice. Vitesse maximale avec topcase</text>
<text class="tiny" x="44.9" y="457.70">180 km/h. Adapter la pression des pneus et</text>
<text class="tiny" x="44.9" y="459.30">la precharge. Controler la fixation du</text>
<text class="tiny" x="44.9" y="460.90">topcase apres la fermeture. Verifier le</text>
<text class="tiny" x="44.9" y="462.50">verrouillage du topcase avant le depart.</text>
<text class="tiny" x="44.9" y="464.10">Repartir les bagages uniformement et les</text>
<text class="tiny" x="44.9" y="467.60">Carico utile massimo del topcase 5 kg.</text>
<text class="tiny" x="44.9" y="469.20">Rispettare le avvertenze di carico del</text>
<text class="tiny" x="44.9" y="470.80">libretto. Velocita massima con topcase 180</text>
<text class="tiny" x="44.9" y="472.40">km/h. Adattare la pressione dei pneumatici</text>
<text class="tiny" x="44.9" y="474.00">e il precarico. Controllare il fissaggio</text>
<text class="tiny" x="44.9" y="475.60">del topcase dopo la chiusura. Controllare</text>
<text class="tiny" x="44.9" y="477.20">il bloccaggio del topcase prima della</text>
<text class="tiny" x="44.9" y="478.80">partenza. Distribuire il bagaglio in modo</text>
<text class="tiny" x="44.9" y="480.40">uniforme e fissarlo per evitare che</text>
<text class="tiny" x="101.8" y="421.90">Carga util maxima de la topcase 5 kg.</text>
<text class="tiny" x="101.8" y="423.50">Observar las indicaciones de carga del</text>
<text class="tiny" x="101.8" y="425.10">manual. Velocidad maxima con topcase 180</text>
<text class="tiny" x="101.8" y="426.70">km/h. Adaptar la presion de los neumaticos</text>
<text class="tiny" x="101.8" y="428.30">y la precarga. Comprobar la fijacion de la</text>
<text class="tiny" x="101.8" y="429.90">topcase tras el cierre y el enclavamiento.</text>
<text class="tiny" x="101.8" y="431.50">Tener en cuenta las instrucciones.</text>
<text class="tiny" x="101.8" y="433.10">Distribuir el equipaje de manera uniforme</text>
<text class="tiny" x="101.8" y="436.60">Max. laadvermogen van de topkoffer 5 kg.</text>
<text class="tiny" x="101.8" y="438.20">Beladingsinstructies in de handleiding in</text>
<text class="tiny" x="101.8" y="439.80">acht nemen. Maximumsnelheid met topkoffer</text>
<text class="tiny" x="101.8" y="441.40">180 km/h. Bandenspanning en</text>
<text class="tiny" x="101.8" y="443.00">veervoorspanning aanpassen. Topkoffer na</text>
<text class="tiny" x="101.8" y="444.60">het sluiten op vastzitten controleren.</text>
<text class="tiny" x="101.8" y="446.20">Vergrendeling van de topkoffer controleren</text>
<text class="tiny" x="101.8" y="447.80">voor vertrek. Bagage gelijkmatig verdelen</text>
<text class="tiny" x="101.8" y="449.40">en tegen verschuiven borgen. Toegestaan</text>
<text class="tiny" x="101.8" y="452.90">Maxlast i toppboxen 5 kg. Beakta</text>
<text class="tiny" x="101.8" y="454.50">lastanvisningarna i instruktionsboken.</text>
<text class="tiny" x="101.8" y="456.10">Maxhastighet med toppbox 180 km/h. Anpassa</text>
<text class="tiny" x="101.8" y="457.70">ringtrycket och fjaderforspanningen.</text>
<text class="tiny" x="101.8" y="459.30">Kontrollera att toppboxen sitter fast</text>
<text class="tiny" x="101.8" y="460.90">efter stangning. Kontrollera lasningen av</text>
<text class="tiny" x="101.8" y="462.50">toppboxen. Fordela bagaget jamnt och sakra</text>
<text class="tiny" x="101.8" y="464.10">det sa att det inte kan glida. Overskrid</text>
<text class="tiny" x="101.8" y="467.60">Carga util maxima da topcase 5 kg.</text>
<text class="tiny" x="101.8" y="469.20">Observar as instrucoes de carga do manual.</text>
<text class="tiny" x="101.8" y="470.80">Velocidade maxima com topcase 180 km/h.</text>
<text class="tiny" x="101.8" y="472.40">Adaptar a pressao dos pneus e a pre-carga.</text>
<text class="tiny" x="101.8" y="474.00">Verificar a fixacao da topcase apos o</text>
<text class="tiny" x="101.8" y="475.60">fecho e o bloqueio. Observar as indicacoes</text>
<text class="tiny" x="101.8" y="477.20">do manual de instrucoes. Distribuir a</text>
<text class="tiny" x="101.8" y="478.80">bagagem uniformemente e fixa-la para que</text>
<text class="tiny" x="101.8" y="480.40">nao escorregue. Nao exceder o peso total</text>
<circle cx="149" cy="423.200" r="3" fill="#e4e4e4"/><circle cx="149" cy="423.200" r="2.350" fill="#161616"/><circle cx="149" cy="423.200" r="1.500" fill="#dcdcdc"/><path d="M149 421.700A1.500 1.500 0 0 1 150.500 423.200H149ZM149 424.700A1.500 1.500 0 0 1 147.500 423.200H149Z" fill="#3a3a3a"/>
<text class="tiny" x="141.200" y="485.200" style="font-size:2.500px">7686916</text>
</g>

<!-- ===== dash-dot assembly lines ===== -->
<g fill="none" stroke-linecap="butt">
<path d="M110 83.700L134.500 93.750" stroke="#fff" stroke-width="3.400"/>
<path d="M110 83.700L290 157.500" stroke="#000" stroke-width="1.300" stroke-dasharray="26.400 4.100 2.200 4.100"/>
<path d="M131.200 194.800L171.500 211.700" stroke="#fff" stroke-width="3.400"/>
<path d="M131.200 194.800L185.500 217.800" stroke="#000" stroke-width="1.300" stroke-dasharray="28.200 4 2.200 4"/>
<!-- pins -->
<path d="M522.400 460.500L548.300 463.600" stroke="#fff" stroke-width="3.600"/>
<path d="M533 476L559 479.600" stroke="#fff" stroke-width="3.600"/>
<path d="M522.400 460.500L548.300 463.600" stroke="#222" stroke-width="1.400"/>
<path d="M533 476L559 479.600" stroke="#222" stroke-width="1.400"/>
<path d="M551.500 464L553.700 464.300M556.600 464.600L584.600 467.600M587.600 467.900L589.800 468.100M592.500 468.400L622 471.500" stroke="#000" stroke-width="1.300"/>
<path d="M562.300 480.100L564.400 480.400" stroke="#000" stroke-width="1.300"/>
</g>


</g>

<!-- ===== LEADER LINES / FRAMES ===== -->
<g id="lines" filter="url(#soft2)">
<path class="ln" d="M65 23V33M29 200H38M29.5 200V33H104V46"/>
<path class="ln" d="M398.6 55V91"/>
<path class="ln" d="M623 85H643"/>
<rect class="ln" x="643" y="46.5" width="111" height="83.5"/>
<path class="ln" d="M720 196.500V211.600M689.800 223V211.600H752.700V244"/>
<path class="ln" d="M689.500 244V255.500"/>
<path class="ln" d="M753.200 265.600V285"/>
<path class="ln" d="M97 403V415.500"/>
<path class="ln" d="M596 497V510"/>
<path class="ln" d="M641.200 501.200V509"/>
<rect x="721.500" y="490.500" width="70.500" height="48.300" fill="#fff" stroke="#222" stroke-width="0.9"/>
</g>

<!-- ===== LABELS ===== -->
<g id="labels" filter="url(#soft2)">
<text class="lbl" x="65.200" y="19.700">5</text>
<text class="lbl" x="399" y="51.500">1</text><path d="M392.500 49.400H397.600V53.500H392.500ZM401.400 49.400H405V53.500H401.400Z" fill="#fff"/>
<text class="lbl" x="617" y="92.600">2</text>
<text class="lbl" x="720.200" y="193.700">6</text>
<text class="lbl" x="689.300" y="241">7</text>
<text class="lbl" x="753.300" y="262.400">8</text>
<text class="lbl" x="97.500" y="398">9</text>
<text class="lbl" x="596" y="527.300">3</text>
<text class="lbl" x="641.300" y="527.300">4</text>
<text class="num" x="759.800" y="552.800">481797</text>
</g>

<!-- arrow icon -->
<g id="arrow" filter="url(#soft2)">
<path d="M727.900 516.900V522.500L737 517.200L767.100 533.500L786.400 522.500V516.900L767.100 527.900L737 511.600Z" fill="#000"/>
<path d="M765 495.500H766V500.600L760.600 503L756.250 500.600Z" fill="#000"/>
<path d="M727.900 495.500H765L756.250 500.600L786.400 516.900L767.100 527.900L737 511.600L727.900 516.900Z" fill="#fff" stroke="#000" stroke-width="1"/>
</g>
</svg>
</body>
</html>
